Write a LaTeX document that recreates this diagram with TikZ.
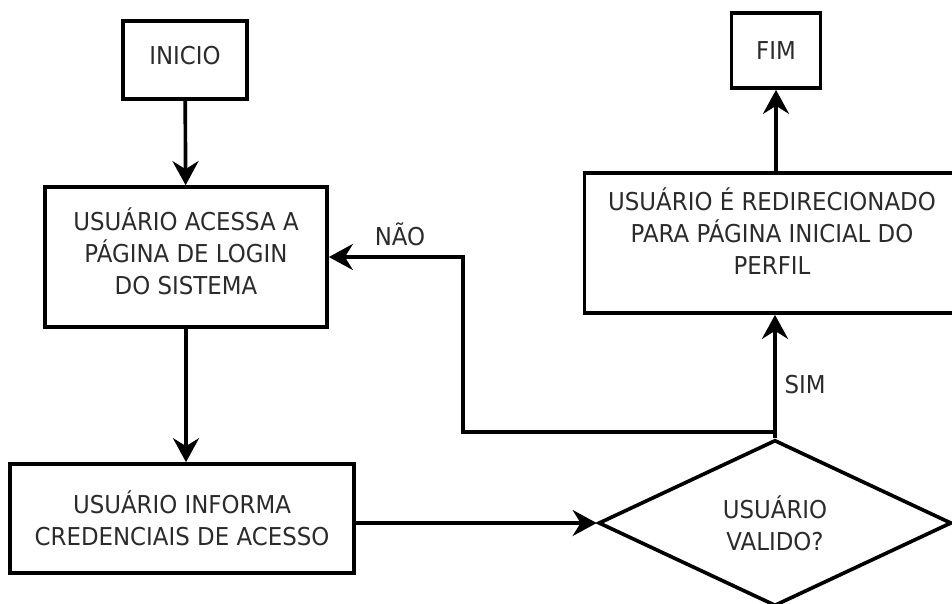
\documentclass[tikz,border=0pt]{standalone}
\usepackage{fontspec}
\setmainfont{DejaVu Sans}[FakeStretch=0.93]
\usepackage{xcolor}
\usepackage{tikz}
\usetikzlibrary{arrows.meta,positioning,shapes.geometric}
\definecolor{textx}{HTML}{2B2B2B}
\tikzset{
  ar/.style={-{Stealth[length=6mm,width=6.5mm,inset=2mm]},line width=2.6pt},
  box/.style={draw,line width=2.6pt,align=center,inner sep=2pt,text=textx,font=\fontsize{17.5}{22.8}\selectfont},
  lbl/.style={text=textx,font=\fontsize{17.5}{22.8}\selectfont,inner sep=1pt}
}
\begin{document}
\begin{tikzpicture}[x=0.025cm,y=-0.025cm]
\useasboundingbox (0,0) rectangle (952,604);
\node[box,minimum width=3.1cm,minimum height=1.95cm,text depth=6pt] (inicio) at (185,60) {INICIO};
\node[box,minimum width=7.05cm,minimum height=3.5cm,text depth=9pt] (acesso) at (186,257) {USUÁRIO ACESSA A\\PÁGINA DE LOGIN\\DO SISTEMA};
\node[box,minimum width=8.6cm,minimum height=2.725cm] (credenciais) at (182,518.5) {USUÁRIO INFORMA\\CREDENCIAIS DE ACESSO};
\node[box,diamond,aspect=2.13,inner sep=0pt,minimum width=8.825cm,minimum height=4.15cm] (valido) at (775,523) {USUÁRIO\\VALIDO?};
\node[box,minimum width=9.375cm,minimum height=3.5cm,text depth=17pt] (redirec) at (772,243) {USUÁRIO É REDIRECIONADO\\PARA PÁGINA INICIAL DO\\PERFIL};
\node[box,minimum width=2.225cm,minimum height=1.875cm] (fim) at (776,50.5) {FIM};
\coordinate (volta) at (463,257);
\coordinate (juncao) at (775,432);
\draw[ar] (inicio) -- (acesso);
\draw[ar] (acesso.south) -- (acesso.south |- credenciais.north);
\draw[ar] (credenciais.east |- valido.west) -- (valido.west);
\draw[ar] (valido.north) -- (valido.north |- redirec.south);
\draw[line width=2.6pt] (valido.north) -- (juncao);
\draw[ar] (juncao) -| (volta) -- (volta -| acesso.east);
\draw[ar] (fim.south |- redirec.north) -- (fim.south);
\node[lbl] (nao) at (400,234) {NÃO};
\node[lbl] (sim) at (805,385) {SIM};
\end{tikzpicture}
\end{document}
